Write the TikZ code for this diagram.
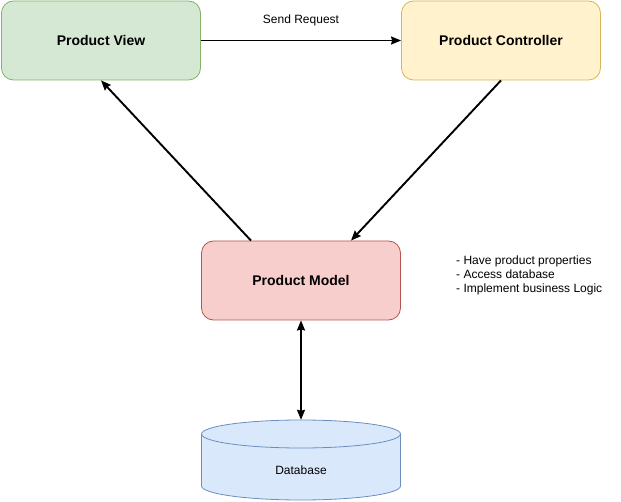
\documentclass[tikz,border=0pt]{standalone}
\usepackage{fontspec}
\setmainfont{Liberation Sans}
\usetikzlibrary{arrows.meta,calc}
\definecolor{gfill}{HTML}{D5E8D4}\definecolor{gdraw}{HTML}{82B366}
\definecolor{yfill}{HTML}{FFF2CC}\definecolor{ydraw}{HTML}{D6B656}
\definecolor{rfill}{HTML}{F8CECC}\definecolor{rdraw}{HTML}{B85450}
\definecolor{bfill}{HTML}{DAE8FC}\definecolor{bdraw}{HTML}{6C8EBF}
\begin{document}
\begin{tikzpicture}[x=1pt,y=-1pt,
  box/.style={rectangle,rounded corners=12pt,minimum width=199pt,minimum height=79pt,inner sep=0pt,line width=0.8pt,font=\fontsize{14}{16}\selectfont\bfseries},
  conn/.style={line width=1.9pt,-{Stealth[length=10pt,width=8pt,inset=1pt]}},
  lbl/.style={font=\fontsize{12}{14}\selectfont}]
\useasboundingbox (0,0) rectangle (621,502);
\node[box,fill=gfill,draw=gdraw] (pv) at (101,40.5) {Product View};
\node[box,fill=yfill,draw=ydraw] (pc) at (501,40.5) {Product Controller};
\node[box,fill=rfill,draw=rdraw] (pm) at (301,280.5) {Product Model};
% database cylinder
\draw[fill=bfill,draw=bdraw,line width=0.8pt] (201.5,434) -- (201.5,486) arc[start angle=180,end angle=360,x radius=99.5pt,y radius=14pt] -- (400.5,434) arc[start angle=0,end angle=180,x radius=99.5pt,y radius=14pt] -- cycle;
\draw[draw=bdraw,line width=0.8pt] (201.5,434) arc[start angle=180,end angle=360,x radius=99.5pt,y radius=14pt];
\node[rectangle,minimum width=199pt,minimum height=80pt,inner sep=0pt] (db) at (301,460) {};
\node[lbl] (dbt) at (301,470) {Database};
\node[lbl,align=left,anchor=north west,inner sep=0pt] (notes) at (456,255.5) {- Have product properties\\- Access database\\- Implement business Logic};
\draw[conn] (pv.east) -- node[lbl,above=10.5pt] (sr) {Send Request} (pc.west);
\draw[conn] (pc.south) -- ($(pm.north)+(50,0)$);
\draw[conn] ($(pm.north)+(-50,0)$) -- (pv.south);
\draw[conn,{Stealth[length=10pt,width=8pt,inset=1pt]}-{Stealth[length=10pt,width=8pt,inset=1pt]}] (pm.south) -- (db.north);
\end{tikzpicture}
\end{document}
